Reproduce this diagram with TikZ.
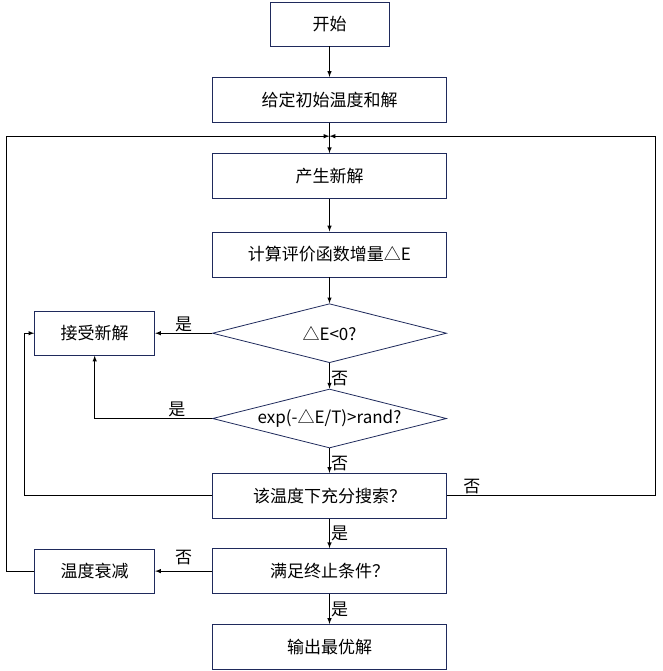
\documentclass[tikz,border=0pt]{standalone}
\usepackage{fontspec}
\newfontfamily\cjk{Noto Sans CJK SC}
\usetikzlibrary{positioning,shapes.geometric}
\definecolor{boxline}{HTML}{1F2A5C}
\begin{document}
\begin{tikzpicture}[x=1pt,y=1pt,node distance=31pt,every node/.style={inner sep=1pt,font=\cjk\fontsize{17}{20}\selectfont}]
\tikzstyle{arrow}=[draw,-latex,line width=1pt]
\tikzstyle{proc}=[draw=boxline,line width=0.8pt,minimum width=234pt,minimum height=45pt]
\tikzstyle{side}=[proc,minimum width=120pt,minimum height=44pt]
\tikzstyle{decision}=[diamond,draw=boxline,line width=0.8pt,minimum width=234pt,minimum height=59pt,inner sep=0pt]
\useasboundingbox (0,0) rectangle (662,-671);

\node[proc,minimum width=119pt,minimum height=44pt](n0) at (329.5,-24){开始};
\node[proc,below=30.5pt of n0](n1){给定初始温度和解};
\node[proc,below=30.5pt of n1](n2){产生新解};
\node[proc,below=32.5pt of n2](n3){计算评价函数增量△E};

\node[decision,below=26pt of n3,label=center:{△E<0?}](n4){};
\node[side,left=57pt of n4](n5){接受新解};
\node[decision,below=25.5pt of n4,label=center:{exp(-△E/T)>rand?}](n6){};

\node[proc,below=24.5pt of n6](n7){该温度下充分搜索？};
\node[proc,below=29.5pt of n7](n8){满足终止条件？};
\node[side,left=57pt of n8](n9){温度衰减};
\node[proc,below=30pt of n8](n10){输出最优解};

\coordinate[above=17pt of n2](m);

\draw[arrow] (n0) -- (n1);
\draw[arrow] (n1) -- (n2);
\draw[arrow] (n2) -- (n3);
\draw[arrow] (n3) -- (n4);
\draw[arrow] (n4) -- node[right,pos=0.6]{否} (n6);
\draw[arrow] (n6) -- node[right,pos=0.6]{否} (n7);
\draw[arrow] (n7) -- node[right]{是} (n8);
\draw[arrow] (n8) -- node[right]{是} (n10);
\draw[arrow] (n4) -- node[above]{是} (n5);
\draw[arrow] (n6.west) -| node[pos=0.15,above]{是} (n5.south);
\draw[arrow] (n7.west) -- ++(-188,0) |- (n5.west);
\draw[arrow] (n7.east) -- ++(209,0) node[pos=0.12,above]{否} |- (m);
\draw[arrow] (n8) -- node[above=5pt]{否} (n9);
\draw[arrow] (n9.west) -- ++(-28,0) |- (m);
\end{tikzpicture}
\end{document}
